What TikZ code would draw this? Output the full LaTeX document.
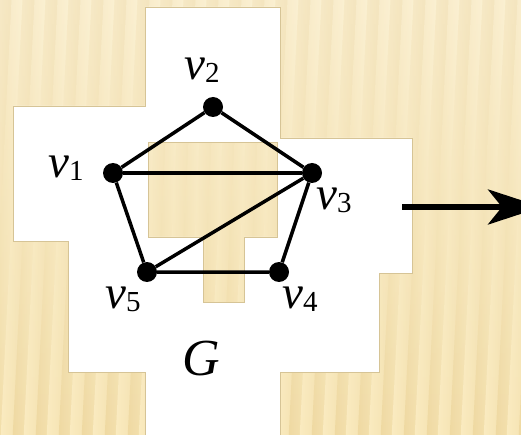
\documentclass[tikz,border=0pt]{standalone}
\usepackage{fontspec}
\setmainfont{Liberation Serif}
\usetikzlibrary{fadings,arrows.meta}
\definecolor{bglight}{HTML}{FAEBC0}
\definecolor{bgdark}{HTML}{EFD9A2}
\definecolor{edgetan}{HTML}{D6C496}
\newcommand\vsub[1]{\textit{v}\raisebox{-3pt}{\fontsize{29}{29}\selectfont\upshape #1}}
\begin{document}
\begin{tikzpicture}[x=1pt,y=-1pt,
  vertex/.style={circle,fill=black,inner sep=0pt,minimum size=20pt},
  edge/.style={line width=3.5pt},
  lbl/.style={font=\fontsize{47}{47}\selectfont, inner sep=0pt, anchor=base},
  stripeA/.style={left color=bglight,right color=bgdark},
  stripeB/.style={left color=bgdark,right color=bglight},
  region/.style={fill=white,draw=edgetan,line width=0.7pt,even odd rule},
]
\useasboundingbox (0,0) rectangle (521,435);
\clip (0,0) rectangle (521,435);
% striped background
\fill[bglight] (0,0) rectangle (521,435);
\begin{scope}[xslant=0.05]
\foreach \i in {-2,...,25} {
  \shade[stripeA] (\i*23-0.5,-5) rectangle (\i*23+12,440);
  \shade[stripeB] (\i*23+11.5,-5) rectangle (\i*23+23.5,440);
}
\end{scope}
\fill[white,fill opacity=0.3,path fading=south] (0,0) rectangle (521,435);
% white region with hole
\path[region]
  (145,7) -- (280,7) -- (280,138) -- (412,138) -- (412,273) -- (379,273)
  -- (379,372) -- (280,372) -- (280,445) -- (145,445) -- (145,372)
  -- (68,372) -- (68,241) -- (13,241) -- (13,106) -- (145,106) -- cycle
  (148,142) -- (277,142) -- (277,237) -- (244,237) -- (244,302)
  -- (203,302) -- (203,237) -- (148,237) -- cycle;
% graph
\node[vertex] (v1) at (113,173) {};
\node[vertex] (v2) at (213,107) {};
\node[vertex] (v3) at (312,173) {};
\node[vertex] (v4) at (279,272) {};
\node[vertex] (v5) at (147,272) {};
\draw[edge] (v1) -- (v2) -- (v3) -- (v4) -- (v5) -- (v1);
\draw[edge] (v1) -- (v3);
\draw[edge] (v3) -- (v5);
\node[lbl] (l1) at (66,178) {\vsub{1}};
\node[lbl] (l2) at (202,80) {\vsub{2}};
\node[lbl] (l3) at (334,210) {\vsub{3}};
\node[lbl] (l4) at (300,308) {\vsub{4}};
\node[lbl] (l5) at (123,308) {\vsub{5}};
\node[lbl,font=\fontsize{52}{52}\selectfont\itshape] (g) at (201.5,375) {G};
% arrow
\coordinate (as) at (402,207);
\coordinate (at) at (542,207);
\draw[line width=5.5pt,-{Stealth[length=54pt,width=35pt,inset=14pt]}] (as) -- (at);
\end{tikzpicture}
\end{document}
